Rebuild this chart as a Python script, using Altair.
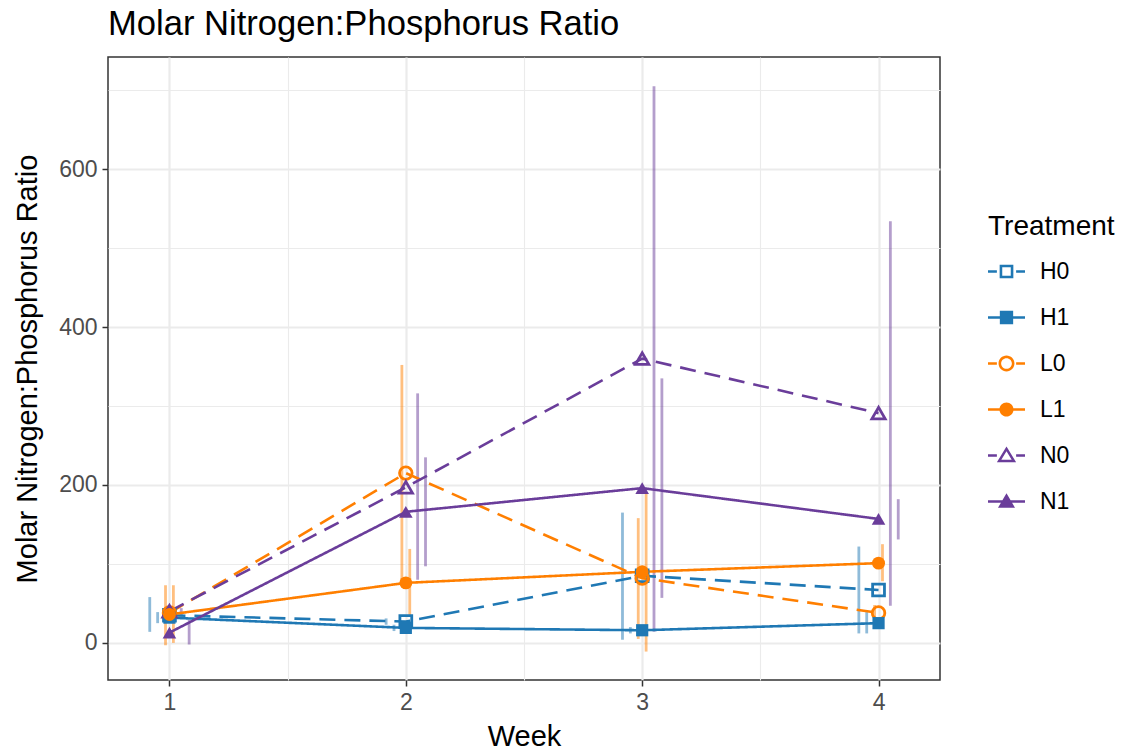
import altair as alt
import pandas as pd

treatments = ["H0", "H1", "L0", "L1", "N0", "N1"]
weeks = [1, 2, 3, 4]

mean_H0 = [35, 27, 85, 67]
mean_H1 = [32, 19, 16, 25]
mean_L0 = [38, 215, 82, 38]
mean_L1 = [36, 76, 90, 101]
mean_N0 = [40, 197, 360, 291]
mean_N1 = [13, 166, 196, 157]

low_H0 = [14, 23, 4, 12]
low_H1 = [25, 15, 12, 12]
low_L0 = [-3, 78, 5, 28]
low_L1 = [0, 33, -11, 78]
low_N0 = [35, 80, 14, 47]
low_N1 = [-2, 97, 57, 131]

high_H0 = [58, 31, 165, 122]
high_H1 = [39, 23, 20, 39]
high_L0 = [73, 352, 158, 48]
high_L1 = [73, 119, 190, 125]
high_N0 = [44, 316, 705, 534]
high_N1 = [29, 235, 335, 182]

means = [mean_H0, mean_H1, mean_L0, mean_L1, mean_N0, mean_N1]
lows = [low_H0, low_H1, low_L0, low_L1, low_N0, low_N1]
highs = [high_H0, high_H1, high_L0, high_L1, high_N0, high_N1]

colors = ["#1f78b4", "#1f78b4", "#ff7f00", "#ff7f00", "#6a3d9a", "#6a3d9a"]
dashes = [[16, 9], [1, 0], [16, 9], [1, 0], [16, 9], [1, 0]]
point_shapes = ["square", "square", "circle", "circle", "triangle-up", "triangle-up"]
point_sizes = [140, 185, 200, 185, 370, 340]

# legend keys: line segment + marker, drawn as filled geometry
solid_line = "M-1,-0.07H1V0.07H-1Z"
dashed_line = "M-1,-0.07H-0.52V0.07H-1ZM0.52,-0.07H1V0.07H0.52Z"
sq_open = "M-0.37,-0.37H0.37V0.37H-0.37ZM-0.23,-0.23V0.23H0.23V-0.23Z"
sq_fill = "M-0.36,-0.36H0.36V0.36H-0.36Z"
ci_open = ("M-0.43,0A0.43,0.43 0 1 1 0.43,0A0.43,0.43 0 1 1 -0.43,0Z"
           "M-0.29,0A0.29,0.29 0 1 0 0.29,0A0.29,0.29 0 1 0 -0.29,0Z")
ci_fill = "M-0.38,0A0.38,0.38 0 1 1 0.38,0A0.38,0.38 0 1 1 -0.38,0Z"
tr_open = "M0,-0.48L0.52,0.37L-0.52,0.37ZM0,-0.225L-0.28,0.235L0.28,0.235Z"
tr_fill = "M0,-0.44L0.46,0.34L-0.46,0.34Z"
legend_paths = [dashed_line + sq_open, solid_line + sq_fill,
                dashed_line + ci_open, solid_line + ci_fill,
                dashed_line + tr_open, solid_line + tr_fill]

dodge_width = 0.2
rows = []
for i, t in enumerate(treatments):
    for j, w in enumerate(weeks):
        rows.append({
            "Treatment": t,
            "Week": w,
            "WeekDodge": w + (i - 2.5) * dodge_width / len(treatments),
            "Mean": means[i][j],
            "Low": lows[i][j],
            "High": highs[i][j],
        })
df = pd.DataFrame(rows)

FONT = "Liberation Sans"
xscale = alt.Scale(domain=[0.74, 4.26], nice=False, zero=False)
yscale = alt.Scale(domain=[-47, 742], nice=False, zero=False)
cscale = alt.Scale(domain=treatments, range=colors)

xaxis = alt.Axis(
    values=[1, 1.5, 2, 2.5, 3, 3.5, 4],
    labelExpr="datum.value % 1 === 0 ? datum.value + '' : ''",
    gridWidth={"condition": {"test": "datum.value % 1 === 0", "value": 2.2}, "value": 1.1},
    tickOpacity={"condition": {"test": "datum.value % 1 === 0", "value": 1}, "value": 0},
    titlePadding=8,
)
yaxis = alt.Axis(
    values=[0, 100, 200, 300, 400, 500, 600, 700],
    labelExpr="datum.value % 200 === 0 ? datum.value + '' : ''",
    gridWidth={"condition": {"test": "datum.value % 200 === 0", "value": 2.2}, "value": 1.1},
    tickOpacity={"condition": {"test": "datum.value % 200 === 0", "value": 1}, "value": 0},
    titlePadding=16,
)

X_T = "Week"
Y_T = "Molar Nitrogen:Phosphorus Ratio"

err = alt.Chart(df).mark_rule(strokeWidth=2.8, opacity=0.5).encode(
    x=alt.X("WeekDodge:Q", scale=xscale, axis=xaxis, title=X_T),
    y=alt.Y("Low:Q", scale=yscale, axis=yaxis, title=Y_T),
    y2="High:Q",
    color=alt.Color("Treatment:N", scale=cscale, legend=None),
)

lines = alt.Chart(df).mark_line(strokeWidth=2.6).encode(
    x=alt.X("Week:Q", scale=xscale, axis=xaxis, title=X_T),
    y=alt.Y("Mean:Q", scale=yscale, axis=yaxis, title=Y_T),
    color=alt.Color("Treatment:N", scale=cscale, legend=None),
    strokeDash=alt.StrokeDash("Treatment:N", scale=alt.Scale(domain=treatments, range=dashes), legend=None),
    detail="Treatment:N",
)

shape_enc = alt.Shape("Treatment:N", scale=alt.Scale(domain=treatments, range=point_shapes), legend=None)
size_enc = alt.Size("Treatment:N", scale=alt.Scale(domain=treatments, range=point_sizes), legend=None)

pts_open = alt.Chart(df).transform_filter(
    alt.FieldOneOfPredicate(field="Treatment", oneOf=["H0", "L0", "N0"])
).mark_point(filled=False, strokeWidth=2.8, opacity=1).encode(
    x=alt.X("Week:Q", scale=xscale, axis=xaxis, title=X_T),
    y=alt.Y("Mean:Q", scale=yscale, axis=yaxis, title=Y_T),
    color=alt.Color("Treatment:N", scale=cscale, legend=None),
    shape=shape_enc,
    size=size_enc,
)

pts_fill = alt.Chart(df).transform_filter(
    alt.FieldOneOfPredicate(field="Treatment", oneOf=["H1", "L1", "N1"])
).mark_point(filled=True, opacity=1, strokeWidth=0).encode(
    x=alt.X("Week:Q", scale=xscale, axis=xaxis, title=X_T),
    y=alt.Y("Mean:Q", scale=yscale, axis=yaxis, title=Y_T),
    color=alt.Color("Treatment:N", scale=cscale, legend=None),
    shape=shape_enc,
    size=size_enc,
)

legend_layer = alt.Chart(df).transform_filter("false").mark_point(
    filled=True, opacity=1, strokeWidth=0
).encode(
    color=alt.Color("Treatment:N", scale=cscale, legend=alt.Legend(title="Treatment")),
    shape=alt.Shape("Treatment:N", scale=alt.Scale(domain=treatments, range=legend_paths),
                    legend=alt.Legend(title="Treatment")),
)

chart = alt.layer(err, lines, pts_open, pts_fill, legend_layer).resolve_scale(
    color="independent", shape="independent", size="independent", strokeDash="independent"
).properties(
    width=832,
    height=623,
    autosize=alt.AutoSizeParams(type="none"),
    padding={"left": 108, "top": 57, "right": 185, "bottom": 72},
    background="white",
    title=alt.TitleParams(
        text="Molar Nitrogen:Phosphorus Ratio",
        anchor="start",
        frame="group",
        font=FONT,
        fontSize=34.6,
        fontWeight="normal",
        color="black",
        offset=14,
    ),
).configure_view(
    stroke="#333333", strokeWidth=1.5, fill="white"
).configure_axis(
    labelFont=FONT, labelFontSize=23, labelColor="#4d4d4d",
    titleFont=FONT, titleFontSize=29, titleFontWeight="normal", titleColor="black",
    tickColor="#333333", tickWidth=1.5, tickSize=6, labelPadding=5,
    domain=False, gridColor="#ebebeb",
).configure_legend(
    orient="none", legendX=880, legendY=156,
    titleFont=FONT, titleFontSize=28, titleFontWeight="normal", titleColor="black",
    labelFont=FONT, labelFontSize=23, labelColor="black",
    symbolSize=1369, symbolStrokeWidth=0, labelOffset=15,
    rowPadding=15, titlePadding=12,
)

chart.save("out.html", embed_options={"renderer": "svg", "actions": False})
